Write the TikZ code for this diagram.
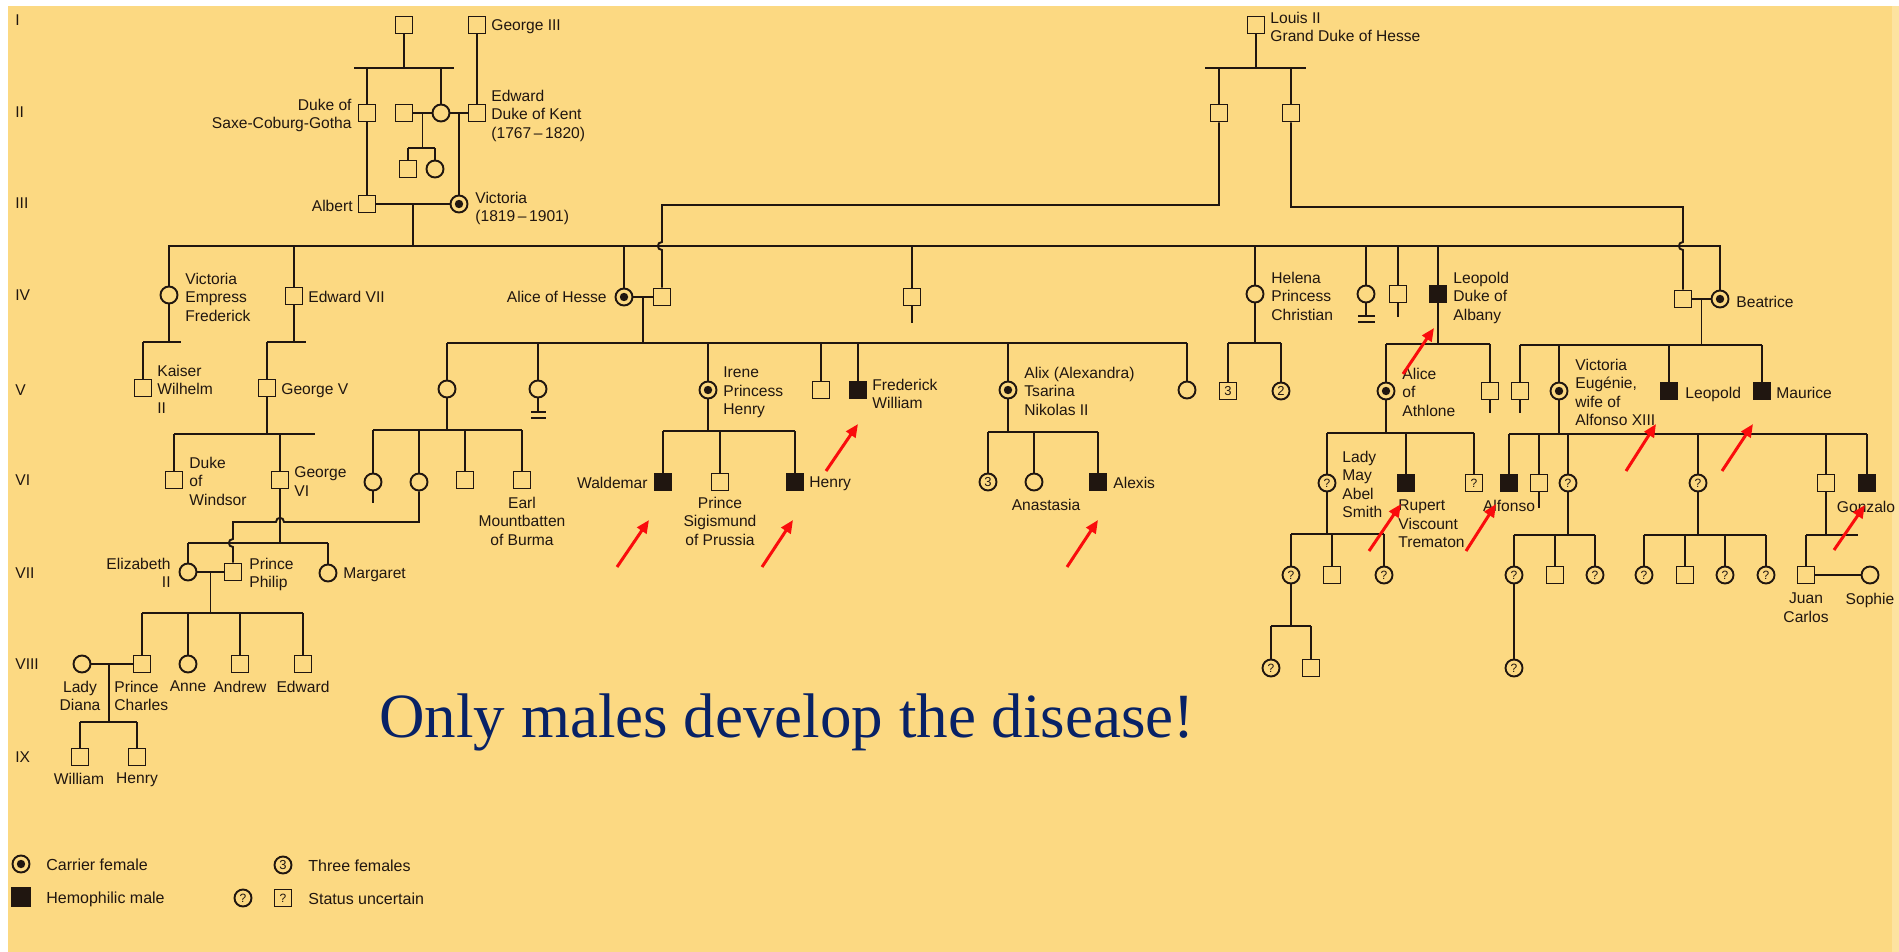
\documentclass[tikz,border=0pt]{standalone}
\usepackage{fontspec}
\setmainfont{Liberation Sans}
\newfontfamily\slogan{Liberation Serif}
\usetikzlibrary{calc,arrows.meta}
\definecolor{paper}{RGB}{252,217,130}
\definecolor{paperedge}{RGB}{253,227,160}
\definecolor{ink}{RGB}{32,22,16}
\definecolor{navy}{RGB}{8,34,102}
\definecolor{alarm}{RGB}{250,12,12}
\tikzset{
  kin/.style={draw=ink,line width=0.95pt},
  sym/.style={draw=ink,line width=0.95pt,inner sep=0pt,minimum size=8.5pt,text=ink,font=\fontsize{6}{6}\selectfont},
  male/.style={sym,rectangle},
  female/.style={sym,circle},
  carrier/.style={female,path picture={\fill[ink] (path picture bounding box.center) circle[radius=2.1pt];}},
  hemo/.style={male,fill=ink},
  lbl/.style={inner sep=0pt,text=ink,font=\fontsize{7.8}{9.25}\selectfont},
  lw/.style={lbl,anchor=north west,align=left,yshift=2.8pt},
  le/.style={lbl,anchor=north east,align=right,yshift=2.8pt},
  lc/.style={lbl,anchor=north,align=center,yshift=2.8pt},
  keytext/.style={lbl,font=\fontsize{8}{9.5}\selectfont,anchor=north west,yshift=2.87pt},
  pointer/.style={draw=alarm,line width=1.5pt,-{Triangle[length=6.5pt,width=5.5pt]}},
}
\begin{document}
\begin{tikzpicture}[x=0.5pt,y=-0.5pt]
% sheet
\fill[white] (0,0) rectangle (1899,952);
\fill[paper] (8,6) rectangle (1899,952);
\fill[paperedge] (1892,6) rectangle (1899,952);
\useasboundingbox (0,0) rectangle (1899,952);

% generation numerals
\foreach \g/\yy in {I/20,II/112,III/203,IV/295,V/390,VI/480,VII/573,VIII/664,IX/757}
  \node[lbl,anchor=north west,yshift=2.8pt] (gen\g) at (15,\yy) {\g};

% ---------- generation I ----------
\node[male] (g1a) at (404,25) {};
\node[male] (george3) at (477,25) {};
\node[lw] (tGeorge3) at (491,25) {George III};
\coordinate (s1L) at (354,68); \coordinate (s1R) at (454,68);
\draw[kin] (s1L) -- (s1R);
\draw[kin] (g1a) -- (g1a |- s1L);

% ---------- generation II ----------
\node[male] (dukeSCG) at (367,113) {};
\node[male] (husb2) at (404,113) {};
\node[female] (mother) at (441,113) {};
\node[male] (kent) at (477,113) {};
\node[le] (tDuke) at (352,104) {Duke of\\Saxe-Coburg-Gotha};
\node[lw] (tKent) at (491,95) {Edward\\Duke of Kent\\(1767\,--\,1820)};
\draw[kin] (dukeSCG) -- (dukeSCG |- s1L);
\draw[kin] (mother) -- (mother |- s1L);
\draw[kin] (george3) -- (kent);
\draw[kin] (husb2) -- (mother);
\draw[kin] (mother) -- (kent);
\coordinate (m2a) at ($(husb2)!0.5!(mother)$);
\coordinate (s2L) at (408,148); \coordinate (s2R) at (435,148);
\draw[kin] (m2a) -- (m2a |- s2L);
\draw[kin] (s2L) -- (s2R);
\node[male] (half1) at (408,169) {};
\node[female] (half2) at (435,169) {};
\draw[kin] (half1) -- (half1 |- s2L);
\draw[kin] (half2) -- (half2 |- s2L);

% ---------- generation III ----------
\node[male] (albert) at (367,204) {};
\node[carrier] (victoria) at (459,204) {};
\node[le] (tAlbert) at (353,205) {Albert};
\node[lw] (tVictoria) at (475,197) {Victoria\\(1819\,--\,1901)};
\coordinate (m2b) at ($(mother)!0.5!(kent)$);
\draw[kin] (dukeSCG) -- (albert);
\draw[kin] (m2b) -- (victoria);
\draw[kin] (albert) -- (victoria);
\coordinate (m3) at ($(albert)!0.5!(victoria)$);
\coordinate (s4L) at (169,246); \coordinate (s4R) at (1720,246);
\draw[kin] (m3) -- (m3 |- s4L);

% ---------- house of Hesse ----------
\node[male] (louis) at (1256,25) {};
\node[lw] (tLouis) at (1270,17) {Louis II\\Grand Duke of Hesse};
\coordinate (sHL) at (1205,68); \coordinate (sHR) at (1306,68);
\node[male] (hs1) at (1219,113) {};
\node[male] (hs2) at (1291,113) {};
\draw[kin] (louis) -- (louis |- sHL);
\draw[kin] (sHL) -- (sHR);
\draw[kin] (hs1) -- (hs1 |- sHL);
\draw[kin] (hs2) -- (hs2 |- sHL);

% ---------- generation IV ----------
\node[female] (empress) at (169,295) {};
\node[male] (edward7) at (294,296) {};
\node[carrier] (aliceH) at (624,297) {};
\node[male] (ludwig) at (662,297) {};
\node[male] (alfred) at (912,297) {};
\node[female] (helena) at (1255,294) {};
\node[female] (louise) at (1366,294) {};
\node[male] (arthur) at (1398,294) {};
\node[hemo] (leopoldD) at (1438,294) {};
\node[male] (henryB) at (1683,299) {};
\node[carrier] (beatrice) at (1720,299) {};
\node[lw] (tEmpress) at (185,278) {Victoria\\Empress\\Frederick};
\node[lw] (tEdward7) at (308,296) {Edward VII};
\node[le] (tAliceH) at (607,296) {Alice of Hesse};
\node[lw] (tHelena) at (1271,277) {Helena\\Princess\\Christian};
\node[lw] (tLeopoldD) at (1453,277) {Leopold\\Duke of\\Albany};
\node[lw] (tBeatrice) at (1736,301) {Beatrice};

\draw[kin] (empress) -- (s4L) -- (s4R) -- (beatrice);
\foreach \p in {edward7,aliceH,alfred,helena,louise,arthur,leopoldD}
  \draw[kin] (\p) -- (\p |- s4L);

% Hesse sons marrying in, hopping over the sibship line
\coordinate (h1turn) at (1219,205); \coordinate (h1drop) at (662,205);
\coordinate (h1hopA) at (662,242); \coordinate (h1hopB) at (662,250);
\draw[kin] (hs1) -- (h1turn) -- (h1drop) -- (h1hopA)
  .. controls +(-5.5,0) and +(-5.5,0) .. (h1hopB) -- (ludwig);
\coordinate (h2turn) at (1291,207); \coordinate (h2drop) at (1683,207);
\coordinate (h2hopA) at (1683,242); \coordinate (h2hopB) at (1683,250);
\draw[kin] (hs2) -- (h2turn) -- (h2drop) -- (h2hopA)
  .. controls +(-5.5,0) and +(-5.5,0) .. (h2hopB) -- (henryB);

% stubs and no-issue bars
\coordinate (alfredEnd) at (912,323);
\draw[kin] (alfred) -- (alfredEnd);
\coordinate (louiseEnd) at (1366,316);
\draw[kin] (louise) -- (louiseEnd);
\coordinate (lbA) at (1358,316); \coordinate (lbB) at (1375,316);
\coordinate (lbC) at (1358,322); \coordinate (lbD) at (1375,322);
\draw[kin] (lbA) -- (lbB); \draw[kin] (lbC) -- (lbD);
\coordinate (arthurEnd) at (1398,317);
\draw[kin] (arthur) -- (arthurEnd);

% marriages of generation IV
\draw[kin] (aliceH) -- (ludwig);
\coordinate (mAH) at ($(aliceH)!0.5!(ludwig)$);
\draw[kin] (henryB) -- (beatrice);
\coordinate (mBH) at ($(henryB)!0.5!(beatrice)$);

% ---------- generation V ----------
\coordinate (sEL) at (143,342); \coordinate (sER) at (181,342);
\draw[kin] (empress) -- (empress |- sEL);
\draw[kin] (sEL) -- (sER);
\node[male] (kaiser) at (143,388) {};
\draw[kin] (kaiser) -- (kaiser |- sEL);
\node[lw] (tKaiser) at (157,370) {Kaiser\\Wilhelm\\II};

\coordinate (sE7L) at (267,342); \coordinate (sE7R) at (306,342);
\draw[kin] (edward7) -- (edward7 |- sE7L);
\draw[kin] (sE7L) -- (sE7R);
\node[male] (george5) at (267,388) {};
\draw[kin] (george5) -- (george5 |- sE7L);
\node[lw] (tGeorge5) at (281,389) {George V};

% children of Alice of Hesse
\coordinate (sAL) at (447,343); \coordinate (sAR) at (1187,343);
\draw[kin] (mAH) -- (mAH |- sAL);
\draw[kin] (sAL) -- (sAR);
\node[female] (vicH) at (447,389) {};
\node[female] (ellaH) at (538,389) {};
\node[carrier] (irene) at (708,390) {};
\node[male] (ernst) at (821,390) {};
\node[hemo] (fritz) at (858,390) {};
\node[carrier] (alix) at (1008,390) {};
\node[female] (mayH) at (1187,390) {};
\foreach \p in {vicH,ellaH,irene,ernst,fritz,alix,mayH}
  \draw[kin] (\p) -- (\p |- sAL);
\node[lw] (tIrene) at (723,372) {Irene\\Princess\\Henry};
\node[lw] (tFritz) at (872,384) {Frederick\\William};
\node[lw] (tAlix) at (1024,372) {Alix (Alexandra)\\Tsarina\\Nikolas II};
\coordinate (ellaEnd) at (538,412);
\draw[kin] (ellaH) -- (ellaEnd);
\coordinate (ebA) at (531,412); \coordinate (ebB) at (546,412);
\coordinate (ebC) at (531,418); \coordinate (ebD) at (546,418);
\draw[kin] (ebA) -- (ebB); \draw[kin] (ebC) -- (ebD);

% children of Helena
\coordinate (sHeL) at (1228,343); \coordinate (sHeR) at (1281,343);
\draw[kin] (helena) -- (helena |- sHeL);
\draw[kin] (sHeL) -- (sHeR);
\node[male,font=\fontsize{6.5}{6.5}\selectfont] (helSons) at (1228,391) {3};
\node[female,font=\fontsize{6.5}{6.5}\selectfont] (helDaus) at (1281,391) {2};
\draw[kin] (helSons) -- (helSons |- sHeL);
\draw[kin] (helDaus) -- (helDaus |- sHeL);

% children of Leopold
\coordinate (sLeL) at (1386,344); \coordinate (sLeR) at (1490,344);
\draw[kin] (leopoldD) -- (leopoldD |- sLeL);
\draw[kin] (sLeL) -- (sLeR);
\node[carrier] (aliceAth) at (1386,391) {};
\node[male] (charlesE) at (1490,391) {};
\draw[kin] (aliceAth) -- (aliceAth |- sLeL);
\draw[kin] (charlesE) -- (charlesE |- sLeL);
\coordinate (charlesEnd) at (1490,413);
\draw[kin] (charlesE) -- (charlesEnd);
\node[lw] (tAliceAth) at (1402,373) {Alice\\of\\Athlone};

% children of Beatrice
\coordinate (sBeL) at (1520,345); \coordinate (sBeR) at (1762,345);
\draw[kin] (mBH) -- (mBH |- sBeL);
\draw[kin] (sBeL) -- (sBeR);
\node[male] (alexB) at (1520,391) {};
\node[carrier] (ena) at (1559,391) {};
\node[hemo] (leopoldB) at (1669,391) {};
\node[hemo] (maurice) at (1762,391) {};
\foreach \p in {alexB,ena,leopoldB,maurice}
  \draw[kin] (\p) -- (\p |- sBeL);
\coordinate (alexEnd) at (1520,413);
\draw[kin] (alexB) -- (alexEnd);
\node[lw] (tEna) at (1575,364) {Victoria\\Eugénie,\\wife of\\Alfonso XIII};
\node[lw] (tLeopoldB) at (1685,392) {Leopold};
\node[lw] (tMaurice) at (1776,392) {Maurice};

% ---------- generation VI ----------
\coordinate (sG5L) at (174,434); \coordinate (sG5R) at (315,434);
\draw[kin] (george5) -- (george5 |- sG5L);
\draw[kin] (sG5L) -- (sG5R);
\node[male] (windsor) at (174,480) {};
\node[male] (george6) at (280,480) {};
\draw[kin] (windsor) -- (windsor |- sG5L);
\draw[kin] (george6) -- (george6 |- sG5L);
\node[lw] (tWindsor) at (189,462) {Duke\\of\\Windsor};
\node[lw] (tGeorge6) at (294,472) {George\\VI};

\coordinate (sVhL) at (373,430); \coordinate (sVhR) at (522,430);
\draw[kin] (vicH) -- (vicH |- sVhL);
\draw[kin] (sVhL) -- (sVhR);
\node[female] (louiseB) at (373,482) {};
\node[female] (aliceB) at (419,482) {};
\node[male] (georgeB) at (465,480) {};
\node[male] (earl) at (522,480) {};
\foreach \p in {louiseB,aliceB,georgeB,earl}
  \draw[kin] (\p) -- (\p |- sVhL);
\coordinate (louiseBEnd) at (373,503);
\draw[kin] (louiseB) -- (louiseBEnd);
\node[lc] (tEarl) at (522,502) {Earl\\Mountbatten\\of Burma};

\coordinate (sIrL) at (663,431); \coordinate (sIrR) at (795,431);
\draw[kin] (irene) -- (irene |- sIrL);
\draw[kin] (sIrL) -- (sIrR);
\node[hemo] (waldemar) at (663,482) {};
\node[male] (sigismund) at (720,482) {};
\node[hemo] (henryI) at (795,482) {};
\foreach \p in {waldemar,sigismund,henryI}
  \draw[kin] (\p) -- (\p |- sIrL);
\node[le] (tWaldemar) at (648,482) {Waldemar};
\node[lc] (tSigismund) at (720,502) {Prince\\Sigismund\\of Prussia};
\node[lw] (tHenryI) at (809,482) {Henry};

\coordinate (sAxL) at (988,432); \coordinate (sAxR) at (1098,432);
\draw[kin] (alix) -- (alix |- sAxL);
\draw[kin] (sAxL) -- (sAxR);
\node[female,font=\fontsize{6.5}{6.5}\selectfont] (duchesses) at (988,482) {3};
\node[female] (anastasia) at (1034,482) {};
\node[hemo] (alexis) at (1098,482) {};
\foreach \p in {duchesses,anastasia,alexis}
  \draw[kin] (\p) -- (\p |- sAxL);
\node[lc] (tAnastasia) at (1046,504) {Anastasia};
\node[lw] (tAlexis) at (1113,482) {Alexis};

\coordinate (sAtL) at (1327,433); \coordinate (sAtR) at (1474,433);
\draw[kin] (aliceAth) -- (aliceAth |- sAtL);
\draw[kin] (sAtL) -- (sAtR);
\node[female] (ladyMay) at (1327,483) {?};
\node[hemo] (rupert) at (1406,483) {};
\node[male] (mauriceA) at (1474,483) {?};
\foreach \p in {ladyMay,rupert,mauriceA}
  \draw[kin] (\p) -- (\p |- sAtL);
\node[lw] (tLadyMay) at (1342,456) {Lady\\May\\Abel\\Smith};
\node[lw] (tRupert) at (1398,505) {Rupert\\Viscount\\Trematon};

\coordinate (sEnL) at (1509,434); \coordinate (sEnR) at (1867,434);
\draw[kin] (ena) -- (ena |- sEnL);
\draw[kin] (sEnL) -- (sEnR);
\node[hemo] (alfonsoP) at (1509,483) {};
\node[male] (jaime) at (1539,483) {};
\node[female] (beatrizE) at (1568,483) {?};
\node[female] (mariaE) at (1698,483) {?};
\node[male] (juanE) at (1826,483) {};
\node[hemo] (gonzalo) at (1867,483) {};
\foreach \p in {alfonsoP,jaime,beatrizE,mariaE,juanE,gonzalo}
  \draw[kin] (\p) -- (\p |- sEnL);
\coordinate (jaimeEnd) at (1539,508);
\draw[kin] (jaime) -- (jaimeEnd);
\node[lc] (tAlfonso) at (1509,505) {Alfonso};
\node[lc] (tGonzalo) at (1866,506) {Gonzalo};

% ---------- generation VII ----------
\coordinate (sG6L) at (188,543); \coordinate (sG6R) at (328,543);
\draw[kin] (george6) -- (george6 |- sG6L);
\draw[kin] (sG6L) -- (sG6R);
\node[female] (elizabeth) at (188,572) {};
\node[male] (philip) at (233,572) {};
\node[female] (margaret) at (328,573) {};
\draw[kin] (elizabeth) -- (elizabeth |- sG6L);
\draw[kin] (margaret) -- (margaret |- sG6L);
\node[le] (tElizabeth) at (171,563) {Elizabeth\\II};
\node[lw] (tPhilip) at (249,563) {Prince\\Philip};
\node[lw] (tMargaret) at (343,573) {Margaret};

% Alice of Battenberg to her son Philip, hopping over two lines
\coordinate (abTurn) at (419,522);
\coordinate (abHopA) at (284,522); \coordinate (abHopB) at (276,522);
\coordinate (abCorner) at (233,522);
\coordinate (abHopC) at (233,539); \coordinate (abHopD) at (233,547);
\draw[kin] (aliceB) -- (abTurn) -- (abHopA)
  .. controls +(0,-5.5) and +(0,-5.5) .. (abHopB) -- (abCorner) -- (abHopC)
  .. controls +(-5.5,0) and +(-5.5,0) .. (abHopD) -- (philip);

\draw[kin] (elizabeth) -- (philip);
\coordinate (mEP) at ($(elizabeth)!0.5!(philip)$);

\coordinate (sLmL) at (1291,534); \coordinate (sLmR) at (1384,534);
\draw[kin] (ladyMay) -- (ladyMay |- sLmL);
\draw[kin] (sLmL) -- (sLmR);
\node[female] (mk1) at (1291,575) {?};
\node[male] (mk2) at (1332,575) {};
\node[female] (mk3) at (1384,575) {?};
\foreach \p in {mk1,mk2,mk3}
  \draw[kin] (\p) -- (\p |- sLmL);

\coordinate (sBzL) at (1514,535); \coordinate (sBzR) at (1595,535);
\draw[kin] (beatrizE) -- (beatrizE |- sBzL);
\draw[kin] (sBzL) -- (sBzR);
\node[female] (bk1) at (1514,575) {?};
\node[male] (bk2) at (1555,575) {};
\node[female] (bk3) at (1595,575) {?};
\foreach \p in {bk1,bk2,bk3}
  \draw[kin] (\p) -- (\p |- sBzL);

\coordinate (sMcL) at (1644,535); \coordinate (sMcR) at (1766,535);
\draw[kin] (mariaE) -- (mariaE |- sMcL);
\draw[kin] (sMcL) -- (sMcR);
\node[female] (ck1) at (1644,575) {?};
\node[male] (ck2) at (1685,575) {};
\node[female] (ck3) at (1725,575) {?};
\node[female] (ck4) at (1766,575) {?};
\foreach \p in {ck1,ck2,ck3,ck4}
  \draw[kin] (\p) -- (\p |- sMcL);

\coordinate (sJuL) at (1806,535); \coordinate (sJuR) at (1858,535);
\draw[kin] (juanE) -- (juanE |- sJuL);
\draw[kin] (sJuL) -- (sJuR);
\node[male] (juanCarlos) at (1806,575) {};
\node[female] (sophie) at (1870,575) {};
\draw[kin] (juanCarlos) -- (juanCarlos |- sJuL);
\draw[kin] (juanCarlos) -- (sophie);
\node[lc] (tJuan) at (1806,598) {Juan\\Carlos};
\node[lc] (tSophie) at (1870,598) {Sophie};

% ---------- generation VIII ----------
\coordinate (sEpL) at (142,613); \coordinate (sEpR) at (303,613);
\draw[kin] (mEP) -- (mEP |- sEpL);
\draw[kin] (sEpL) -- (sEpR);
\node[male] (charles) at (142,664) {};
\node[female] (anne) at (188,664) {};
\node[male] (andrew) at (240,664) {};
\node[male] (edwardP) at (303,664) {};
\node[female] (diana) at (82,664) {};
\foreach \p in {charles,anne,andrew,edwardP}
  \draw[kin] (\p) -- (\p |- sEpL);
\draw[kin] (diana) -- (charles);
\node[lc] (tDiana) at (80,686) {Lady\\Diana};
\node[lw] (tCharles) at (114,686) {Prince\\Charles};
\node[lc] (tAnne) at (188,686) {Anne};
\node[lc] (tAndrew) at (240,686) {Andrew};
\node[lc] (tEdwardP) at (303,686) {Edward};

\coordinate (sMkL) at (1271,626); \coordinate (sMkR) at (1311,626);
\draw[kin] (mk1) -- (mk1 |- sMkL);
\draw[kin] (sMkL) -- (sMkR);
\node[female] (gk1) at (1271,668) {?};
\node[male] (gk2) at (1311,668) {};
\draw[kin] (gk1) -- (gk1 |- sMkL);
\draw[kin] (gk2) -- (gk2 |- sMkL);
\node[female] (gk3) at (1514,668) {?};
\draw[kin] (bk1) -- (gk3);

% ---------- generation IX ----------
\coordinate (mDC) at (109,664);
\coordinate (sDcL) at (80,722); \coordinate (sDcR) at (137,722);
\draw[kin] (mDC) -- (mDC |- sDcL);
\draw[kin] (sDcL) -- (sDcR);
\node[male] (william) at (80,757) {};
\node[male] (harry) at (137,757) {};
\draw[kin] (william) -- (william |- sDcL);
\draw[kin] (harry) -- (harry |- sDcL);
\node[lc] (tWilliam) at (79,778) {William};
\node[lc] (tHarry) at (137,778) {Henry};

% ---------- pointers to the affected males ----------
\foreach \n/\ax/\ay/\bx/\by in {
   pw/617/567/649/520, ph/762/567/793/520, pf/826/471/858/424,
   pa/1067/567/1098/520, pl/1403/374/1434/328, pr/1369/551/1401/504,
   pal/1466/551/1496/504, pe/1626/471/1656/424, pm/1722/471/1753/424,
   pg/1834/550/1865/505}{
  \coordinate (\n tail) at (\ax,\ay);
  \coordinate (\n head) at (\bx,\by);
  \draw[pointer] (\n tail) -- (\n head);
}

% ---------- slogan ----------
\node[inner sep=0pt,anchor=base west,text=navy,font=\slogan\fontsize{31.5}{36}\selectfont]
  (slogan) at (379,737) {Only males develop the disease!};

% ---------- key ----------
\node[carrier] (keyCarrier) at (21,864) {};
\node[keytext] (tKeyCarrier) at (46,864) {Carrier female};
\node[hemo,minimum size=9.3pt] (keyHemo) at (21,897) {};
\node[keytext] (tKeyHemo) at (46,897) {Hemophilic male};
\node[female,font=\fontsize{6.5}{6.5}\selectfont] (keyThree) at (283,865) {3};
\node[keytext] (tKeyThree) at (308,865) {Three females};
\node[female] (keyUnkC) at (243,898) {?};
\node[male] (keyUnkS) at (283,898) {?};
\node[keytext] (tKeyUnk) at (308,898) {Status uncertain};
\end{tikzpicture}
\end{document}
